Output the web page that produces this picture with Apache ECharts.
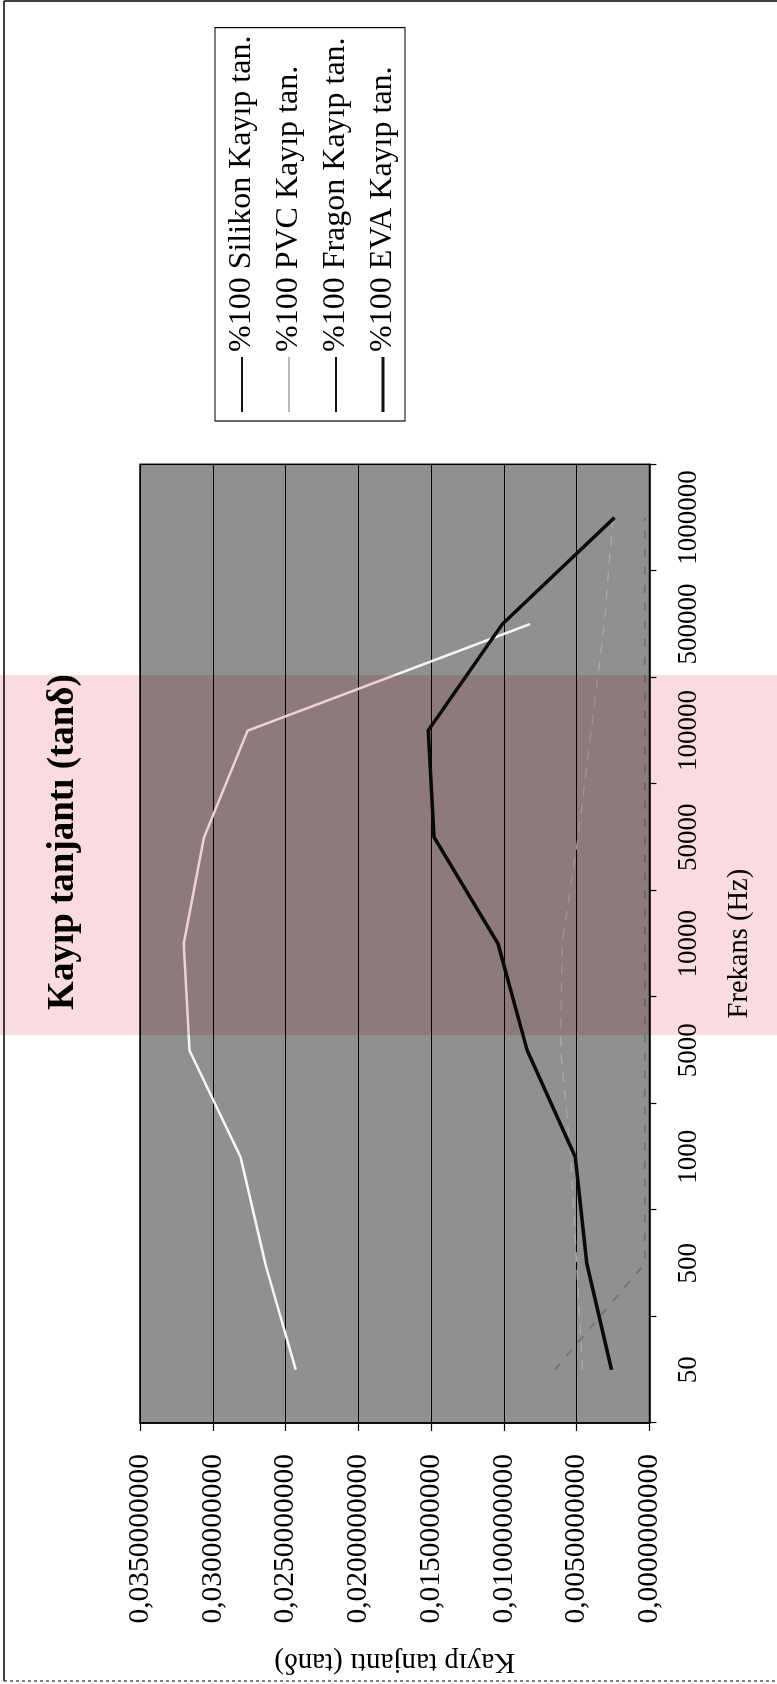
<!DOCTYPE html>
<html>
<head>
<meta charset="utf-8">
<script src="https://cdn.jsdelivr.net/npm/echarts@6/dist/echarts.min.js"></script>
<style>
  html, body { margin: 0; padding: 0; background: #fff; overflow: hidden; }
  /* sheet with a light pink band running across its middle */
  #page {
    position: relative; width: 777px; height: 1684px; overflow: hidden;
    background: linear-gradient(to bottom,
      #ffffff 0, #ffffff 675px,
      #f9dbe0 675px, #f9dbe0 1035px,
      #ffffff 1035px, #ffffff 100%);
    isolation: isolate;
  }
  /* the chart is laid out landscape and turned a quarter turn counter-clockwise */
  #chart {
    position: absolute; left: 0; top: 0;
    width: 1684px; height: 777px;
    transform-origin: 0 0;
    transform: translate(0, 1684px) rotate(-90deg);
  }
  /* the same band tints the plot area */
  #band {
    position: absolute; left: 140px; top: 675px;
    width: 510px; height: 360px;
    background: #f9d8dd;
    mix-blend-mode: multiply;
    pointer-events: none;
  }
</style>
</head>
<body>
<div id="page"><div id="chart"></div><div id="band"></div></div>
<script>
// Frequencies (Hz) on the category axis
const categories = ['50', '500', '1000', '5000', '10000', '50000', '100000', '500000', '1000000'];

// Loss tangent (tanδ) per material
const silikon = [0.0026, 0.0043, 0.0051, 0.0084, 0.0104, 0.0148, 0.0152, 0.0101, 0.0024];
const pvc     = [0.0243, 0.0264, 0.0281, 0.0316, 0.0320, 0.0306, 0.0276, 0.0082, null];
const fragon  = [0.0065, 0.0003, 0.0003, 0.0003, 0.0003, 0.0003, 0.0003, 0.0003, 0.0003];
const eva     = [0.0046, 0.0050, 0.0054, 0.0061, 0.0060, 0.0049, 0.0040, 0.0031, 0.0025];

const seriesNames = [
  '%100 Silikon Kayıp tan.',
  '%100 PVC Kayıp tan.',
  '%100 Fragon Kayıp tan.',
  '%100 EVA Kayıp tan.'
];

// Value axis ticks
const valueMin = 0, valueMax = 0.035, valueStep = 0.005;

const SERIF = '"Liberation Serif", "Times New Roman", serif';

const chart = echarts.init(document.getElementById('chart'), null, { renderer: 'canvas' });

chart.setOption({
  backgroundColor: 'transparent',
  animation: false,
  title: {
    text: 'Kayıp tanjantı (tanδ)',
    left: 'center',
    top: 40,
    textStyle: { fontFamily: SERIF, fontWeight: 'bold', fontSize: 37, color: '#000' }
  },
  legend: {
    orient: 'vertical',
    left: 1263,
    top: 215,
    padding: [11, 8, 6, 9],
    itemGap: 15,
    itemWidth: 55,
    itemHeight: 14,
    backgroundColor: '#ffffff',
    borderColor: '#000',
    borderWidth: 1.2,
    textStyle: { fontFamily: SERIF, fontSize: 32, color: '#000' },
    data: [
      { name: seriesNames[0], icon: 'path://M0,6 L55,6 L55,8 L0,8 Z', itemStyle: { color: '#111' } },
      { name: seriesNames[1], icon: 'path://M0,6 L55,6 L55,8 L0,8 Z', itemStyle: { color: '#b8b8b8' } },
      { name: seriesNames[2], icon: 'path://M0,6 L55,6 L55,8 L0,8 Z', itemStyle: { color: '#111' } },
      { name: seriesNames[3], icon: 'path://M0,5.5 L55,5.5 L55,8.5 L0,8.5 Z', itemStyle: { color: '#111' } }
    ]
  },
  grid: {
    left: 255.7,
    right: 464.3,
    top: 140,
    bottom: 127.6,
    show: true,
    backgroundColor: '#909090',
    borderColor: '#000',
    borderWidth: 1.5
  },
  xAxis: {
    type: 'category',
    data: categories,
    boundaryGap: true,
    name: 'Frekans (Hz)',
    nameLocation: 'middle',
    nameGap: 76,
    nameTextStyle: { fontFamily: SERIF, fontSize: 28.5, color: '#000' },
    axisLine: { lineStyle: { color: '#000', width: 1.5 } },
    axisTick: { show: true, length: 7, lineStyle: { color: '#000', width: 1.2 } },
    axisLabel: { interval: 0, margin: 26, fontFamily: SERIF, fontSize: 27, color: '#000' },
    splitLine: { show: false }
  },
  yAxis: {
    type: 'value',
    min: valueMin,
    max: valueMax,
    interval: valueStep,
    name: 'Kayıp tanjantı (tanδ)',
    nameLocation: 'middle',
    nameRotate: 90,
    nameGap: 224,
    nameTextStyle: { fontFamily: SERIF, fontSize: 29, color: '#000' },
    axisLine: { show: true, lineStyle: { color: '#000', width: 1.5 } },
    axisTick: { show: true, length: 8, lineStyle: { color: '#000', width: 1.2 } },
    axisLabel: {
      margin: 31,
      fontFamily: SERIF,
      fontSize: 29.5,
      color: '#000',
      formatter: v => v.toFixed(10).replace('.', ',')
    },
    splitLine: { show: true, lineStyle: { color: '#000', width: 1.2 } }
  },
  graphic: [
    // sheet frame: solid on two sides, dotted along the foot
    {
      type: 'line',
      shape: { x1: 1683, y1: 4, x2: 1683, y2: 777 },
      style: { stroke: '#000', lineWidth: 1.5 },
      silent: true, z: 100
    },
    {
      type: 'line',
      shape: { x1: 3, y1: 4, x2: 1683, y2: 4 },
      style: { stroke: '#000', lineWidth: 1.5 },
      silent: true, z: 100
    },
    {
      type: 'line',
      shape: { x1: 3, y1: 4, x2: 3, y2: 777 },
      style: { stroke: '#555', lineWidth: 1.5, lineDash: [3, 3] },
      silent: true, z: 100
    }
  ],
  series: [
    {
      name: seriesNames[0], type: 'line', data: silikon,
      symbol: 'none', z: 5,
      lineStyle: { color: '#0a0a0a', width: 3.5 },
      itemStyle: { color: '#0a0a0a' }
    },
    {
      name: seriesNames[1], type: 'line', data: pvc,
      symbol: 'none', z: 4,
      lineStyle: { color: '#f6f6f6', width: 2.5 },
      itemStyle: { color: '#f6f6f6' }
    },
    {
      name: seriesNames[2], type: 'line', data: fragon,
      symbol: 'none', z: 3,
      lineStyle: { color: '#747474', width: 2, type: [8, 10] },
      itemStyle: { color: '#747474' }
    },
    {
      name: seriesNames[3], type: 'line', data: eva,
      symbol: 'none', z: 3,
      lineStyle: { color: '#a8a8a8', width: 1.5, type: [10, 8] },
      itemStyle: { color: '#a8a8a8' }
    }
  ]
});
</script>
</body>
</html>
